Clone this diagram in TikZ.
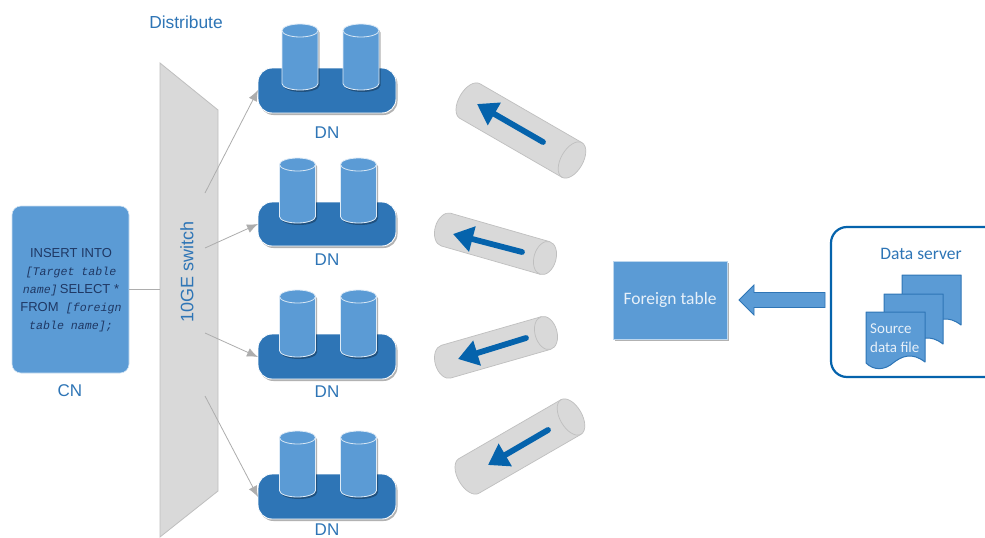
\documentclass[tikz,border=0pt]{standalone}
\usepackage{fontspec}
\setmainfont{Liberation Sans}
\newfontfamily\carlfont{Carlito}
\newfontfamily\monofnt{Liberation Mono}
\usetikzlibrary{shadows,arrows.meta,shapes.geometric}
\definecolor{cnblue}{HTML}{5B9BD5}
\definecolor{dkblue}{HTML}{2E75B6}
\definecolor{arblue}{HTML}{0563AC}
\definecolor{tubegray}{HTML}{D9D9D9}
\definecolor{edgegray}{HTML}{BFBFBF}
\definecolor{linegray}{HTML}{ADADAD}
\definecolor{txtdark}{HTML}{1F3864}
\tikzset{
  x=1pt,y=-1pt,
  softshadow/.style={drop shadow={shadow xshift=1.5pt,shadow yshift=-2pt,fill=black,opacity=.3}},
  labeltext/.style={text=dkblue,font=\fontsize{17}{18}\selectfont,inner sep=0pt},
  dnbase/.style={draw=white,line width=.9pt,fill=dkblue,rounded corners=14pt,softshadow,inner sep=0pt},
  link/.style={draw=linegray,line width=.8pt},
  linkarrow/.style={link,-{Latex[length=11pt,width=9pt,fill=linegray]}},
  tubeshape/.style={fill=tubegray,draw=edgegray,line width=.7pt},
  flow/.style={draw=arblue,line width=5.8pt,line cap=round,-{Triangle[length=20pt,width=25pt,fill=arblue]}},
  docshape/.style={fill=cnblue,draw=dkblue,line width=1pt,line join=round},
}
% cylinder: left x, right x, top y, bottom y
\newcommand{\dncyl}[4]{%
  \path[softshadow] (#1,#3+6.5) -- (#1,#4-6.5) arc[start angle=180,end angle=360,x radius={(#2-#1)/2},y radius=-6.5] -- (#2,#3+6.5) arc[start angle=0,end angle=180,x radius={(#2-#1)/2},y radius=-6.5] -- cycle;
  \draw[fill=cnblue,draw=white!80!cnblue,line width=.8pt] (#1,#3+6.5) -- (#1,#4-6.5) arc[start angle=180,end angle=360,x radius={(#2-#1)/2},y radius=-6.5] -- (#2,#3+6.5) arc[start angle=0,end angle=180,x radius={(#2-#1)/2},y radius=-6.5] -- cycle;
  \draw[draw=white!75!cnblue,line width=.8pt] (#1,#3+6.5) arc[start angle=180,end angle=360,x radius={(#2-#1)/2},y radius=-6.5];
}
% tube: cap x, cap y, angle, length, radius
\newcommand{\tube}[5]{%
  \begin{scope}[shift={(#1,#2)},rotate=#3]
    \draw[tubeshape] (0,-#5) -- (-#4,-#5) arc[start angle=90,end angle=270,x radius=11,y radius=-#5] -- (0,#5) arc[start angle=270,end angle=450,x radius=11,y radius=-#5] -- cycle;
    \draw[tubeshape] (0,-#5) arc[start angle=90,end angle=270,x radius=11,y radius=-#5];
  \end{scope}
}
\begin{document}
\begin{tikzpicture}
\useasboundingbox[fill=white] (0,0) rectangle (985,538);

% switch
\draw[fill=tubegray,draw=edgegray,line width=.8pt] (160,63) -- (218,110) -- (218,491) -- (160,537) -- cycle;
\node[labeltext,rotate=90,font=\fontsize{18}{20}\selectfont] (sw) at (187,272) {10GE switch};
\node[labeltext,font=\fontsize{17.4}{20}\selectfont] (dist) at (186,22) {Distribute};

% CN
\node[fill=cnblue,draw=white!70!cnblue,line width=.6pt,rounded corners=9pt,minimum width=117pt,minimum height=167pt,inner sep=0pt] (cn) at (70.5,289.5) {};
\node[align=center,text=txtdark,inner sep=0pt,font=\fontsize{13}{18}\selectfont] (cntext) at (71,290) {INSERT INTO\\[0pt]
{\monofnt\itshape\fontsize{11.6}{18}\selectfont [Target table}\\[0pt]
{\monofnt\itshape\fontsize{11.6}{18}\selectfont name]}\,SELECT *\\[0pt]
FROM\ \ {\monofnt\itshape\fontsize{11.6}{18}\selectfont [foreign}\\[0pt]
{\monofnt\itshape\fontsize{11.6}{18}\selectfont table name];}};
\node[labeltext] (cnl) at (70,391) {CN};
\coordinate (swleft) at (160,289);
\draw[link] (cn.east |- swleft) -- (swleft);

% DN groups
\foreach \nm/\ya/\yb/\xc/\ct/\cb/\yl in {a/68/113/0/24/90/133,b/202/246/-2.5/158/223/260,c/334/379/-2.5/290/357/392,d/474/519/-2.5/431/497/530}{
  \pgfmathsetmacro{\yc}{(\ya+\yb)/2}
  \pgfmathsetmacro{\hh}{\yb-\ya}
  \node[dnbase,minimum width=138pt,minimum height=\hh pt] (base\nm) at (327,\yc) {};
  \pgfmathsetmacro{\xa}{282+\xc}\pgfmathsetmacro{\xb}{318+\xc}
  \pgfmathsetmacro{\xd}{343+\xc}\pgfmathsetmacro{\xe}{379+\xc}
  \dncyl{\xa}{\xb}{\ct}{\cb}
  \dncyl{\xd}{\xe}{\ct}{\cb}
  \node[labeltext] (dn\nm) at (327,\yl) {DN};
}

% switch links
\coordinate (sa) at (205,193);
\coordinate (sb) at (205,248);
\coordinate (sc) at (205,333);
\coordinate (sd) at (205,396);
\coordinate (ta) at (258,90);
\coordinate (tb) at (258,224);
\coordinate (tc) at (258,357);
\coordinate (td) at (258,497);
\draw[linkarrow] (sa) -- (ta);
\draw[linkarrow] (sb) -- (tb);
\draw[linkarrow] (sc) -- (tc);
\draw[linkarrow] (sd) -- (td);

% tubes
\tube{572}{160}{-30}{118}{20}
\tube{545}{258}{-16}{103}{17}
\tube{546}{333}{16}{104}{17}
\tube{571}{417}{30}{118}{20}
\coordinate (f1a) at (543,142); \coordinate (f1b) at (477,104);
\coordinate (f2a) at (522,252); \coordinate (f2b) at (453,234);
\coordinate (f3a) at (526,338); \coordinate (f3b) at (458,359);
\coordinate (f4a) at (548,430); \coordinate (f4b) at (488,465);
\draw[flow] (f1a) -- (f1b);
\draw[flow] (f2a) -- (f2b);
\draw[flow] (f3a) -- (f3b);
\draw[flow] (f4a) -- (f4b);

% foreign table
\node[fill=cnblue,draw=white!60!cnblue,line width=.5pt,softshadow,minimum width=114pt,minimum height=78pt,inner sep=0pt,text=white!85!cnblue,font=\carlfont\fontsize{17.5}{18}\selectfont] (ft) at (670,300) {Foreign table};

% data server
\draw[draw=arblue,line width=2.2pt,fill=white,rounded corners=16pt] (1010,227) -- (831,227) -- (831,377) -- (1010,377);
\coordinate (ds) at (825,300);
\draw[fill=cnblue,draw=dkblue,line width=.8pt] (ds) ++(0,-7.5) -- (754,292.5) -- (754,285) -- (739,300) -- (754,315) -- (754,307.5) -- (825,307.5) -- cycle;
\node[inner sep=0pt,text=dkblue,font=\carlfont\fontsize{17.5}{18}\selectfont] (dsl) at (921,254) {Data server};
\foreach \dx/\dy in {36/-37,18/-18,0/0}{
  \begin{scope}[shift={(\dx,\dy)}]
    \draw[docshape] (866,312) -- (925,312) -- (925,362) .. controls (912,352) and (902,356) .. (893,363) .. controls (885,370) and (874,371) .. (866,363) -- cycle;
  \end{scope}
}
\node[inner sep=0pt,anchor=west,align=left,text=white!85!cnblue,font=\carlfont\fontsize{15}{19}\selectfont] (src) at (870,338) {Source\\data file};
\end{tikzpicture}
\end{document}
